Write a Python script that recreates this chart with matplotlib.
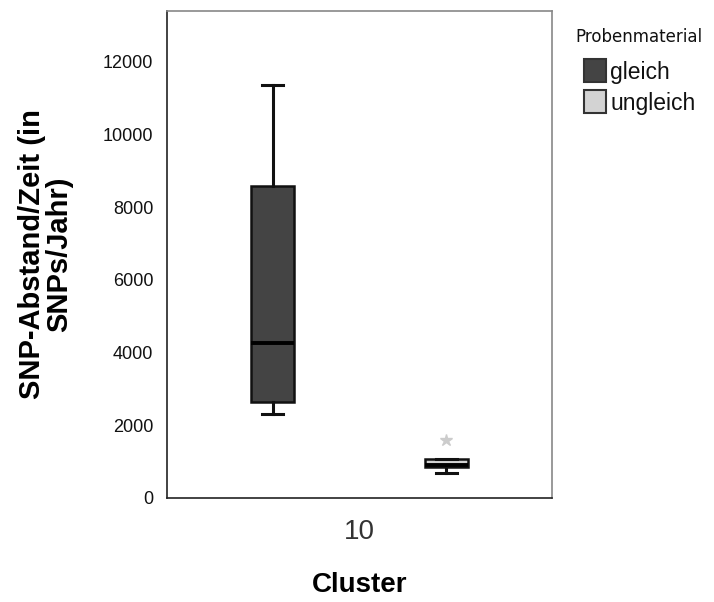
import matplotlib.pyplot as plt
import matplotlib.patches as mpatches

# box statistics (SNPs/Jahr)
groups = ['gleich', 'ungleich']
colors = ['#444444', '#d3d3d3']
whislo = [2300, 690]
q1 = [2640, 850]
med = [4260, 910]
q3 = [8580, 1070]
whishi = [11350, 1070]
outliers = [[], [1600]]
positions = [-0.226, 0.226]
cluster = ['10']
yticks = [0, 2000, 4000, 6000, 8000, 10000, 12000]

plt.rcParams['font.family'] = ['Liberation Sans', 'DejaVu Sans']

fig = plt.figure(figsize=(7.14, 6.02), dpi=100)
ax = fig.add_axes([0.234, 0.173, 0.539, 0.809])

stats = []
for i, g in enumerate(groups):
    stats.append(dict(label=g, whislo=whislo[i], q1=q1[i], med=med[i],
                      q3=q3[i], whishi=whishi[i], fliers=[]))

bp = ax.bxp(stats, positions=positions, widths=0.11, patch_artist=True,
            showfliers=False, manage_ticks=False,
            boxprops=dict(linewidth=1.8, edgecolor='#111111'),
            medianprops=dict(color='black', linewidth=2.8),
            whiskerprops=dict(color='#111111', linewidth=2.2),
            capprops=dict(color='#111111', linewidth=2.2),
            capwidths=0.055)
for patch, c in zip(bp['boxes'], colors):
    patch.set_facecolor(c)

# extreme values drawn as stars
for i, vals in enumerate(outliers):
    if vals:
        ax.plot([positions[i]] * len(vals), vals, linestyle='none',
                marker='*', markersize=9, color='#cccccc')

ax.set_xlim(-0.5, 0.5)
ax.set_ylim(0, 13400)
ax.set_yticks(yticks)
ax.set_yticklabels([str(v) for v in yticks], fontsize=13, color='#111111')
ax.set_xticks([0])
ax.set_xticklabels(cluster, fontsize=20, color='#333333')
ax.tick_params(axis='y', length=0, pad=10)
ax.tick_params(axis='x', length=0, pad=15)

for side in ['left', 'bottom']:
    ax.spines[side].set_color('#222222')
    ax.spines[side].set_linewidth(1.2)
for side in ['top', 'right']:
    ax.spines[side].set_color('#888888')
    ax.spines[side].set_linewidth(1.2)

ax.set_ylabel('SNP-Abstand/Zeit (in\nSNPs/Jahr)', fontsize=21,
              fontweight='bold', labelpad=21, linespacing=1.0)
ax.set_xlabel('Cluster', fontsize=20, fontweight='bold', labelpad=20)

# legend drawn by hand so the title sits left of the indented swatches
fig.text(575 / 714, 1 - 28 / 602, 'Probenmaterial', fontsize=12,
         family='DejaVu Sans', color='#111111', va='top', ha='left')
row_y = [70.5, 101]
for g, c, yy in zip(groups, colors, row_y):
    fig.patches.append(mpatches.Rectangle(
        (584 / 714, 1 - (yy + 11.5) / 602), 22 / 714, 23 / 602,
        transform=fig.transFigure, facecolor=c, edgecolor='#333333',
        linewidth=1.5))
    fig.text(610 / 714, 1 - yy / 602, g, fontsize=16.5, color='#111111',
             va='center_baseline', ha='left')

fig.savefig('out.png', dpi=100, facecolor='white')
